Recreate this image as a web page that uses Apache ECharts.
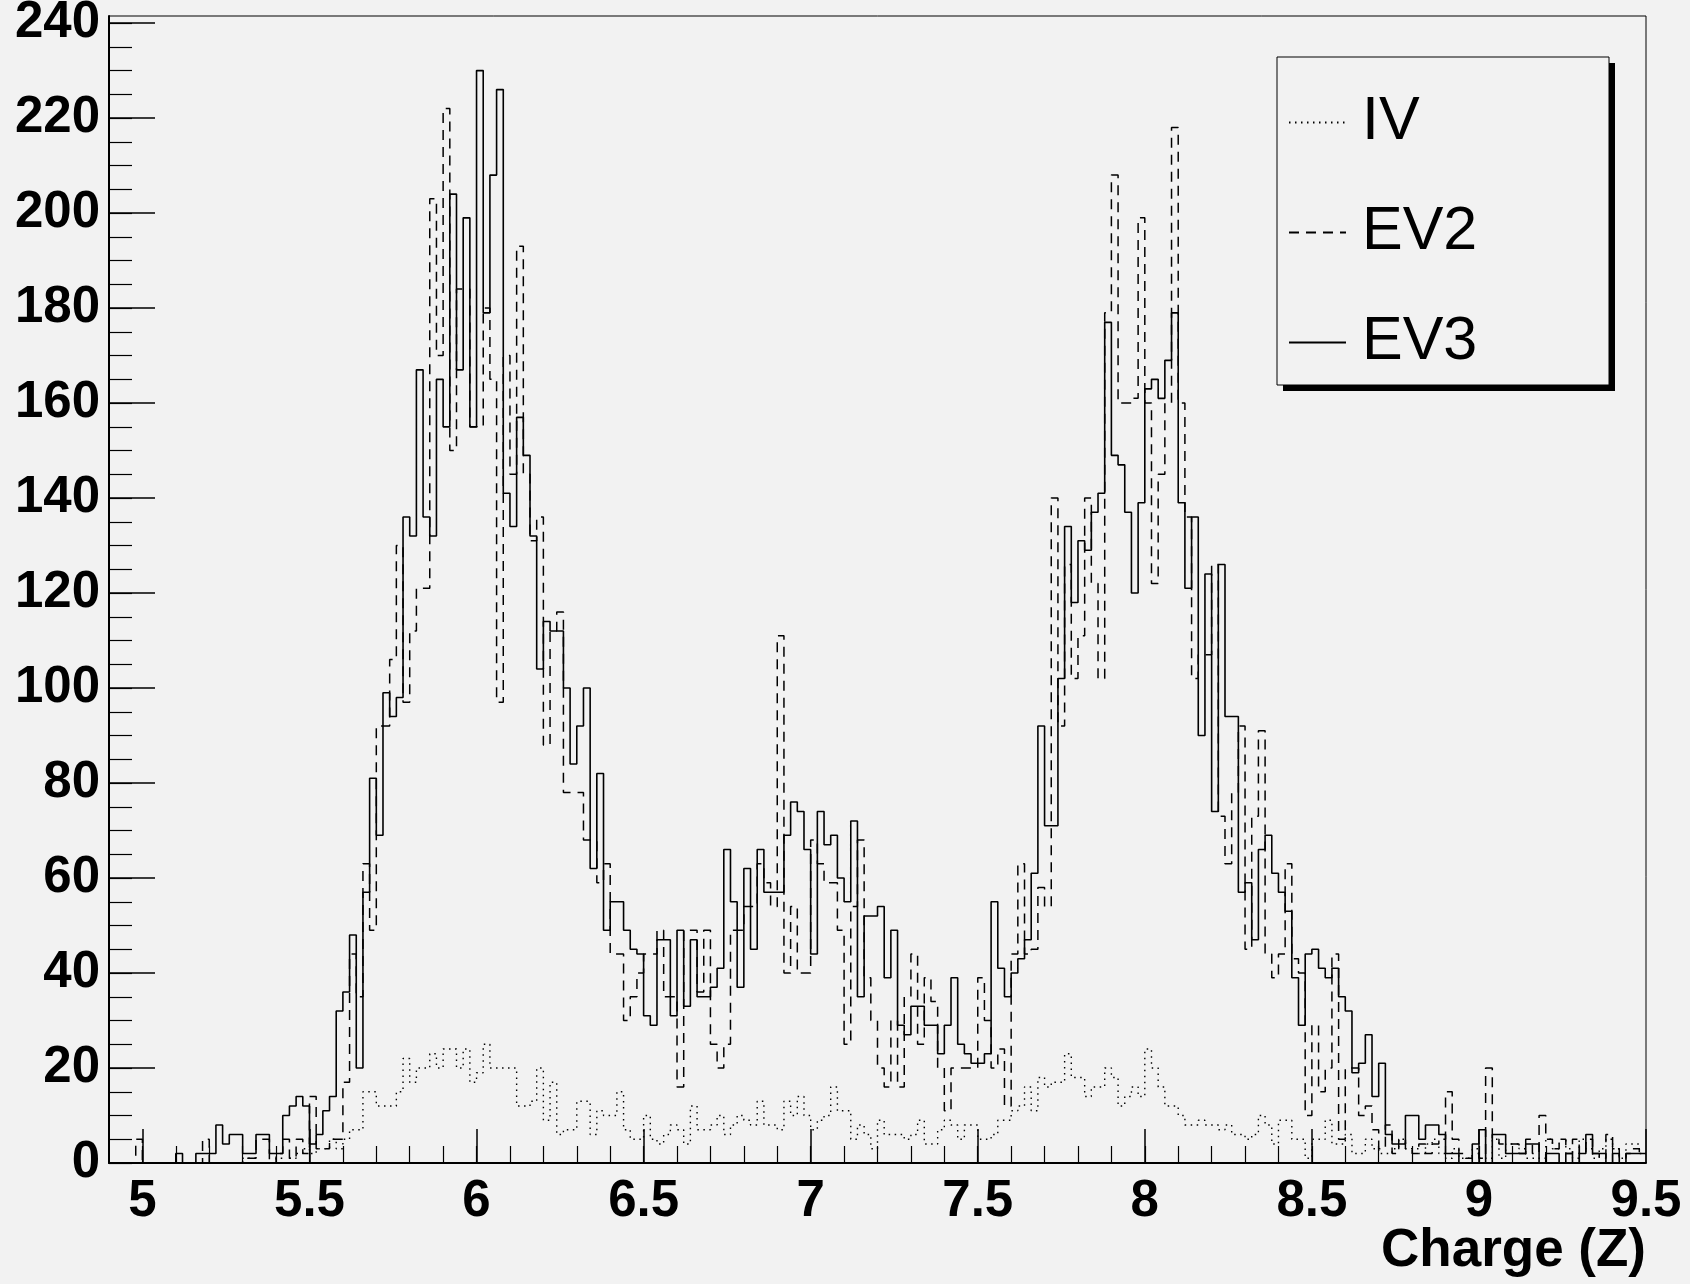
<!DOCTYPE html>
<html>
<head>
<meta charset="utf-8">
<title>Charge (Z)</title>
<script src="https://cdn.jsdelivr.net/npm/echarts@6/dist/echarts.min.js"></script>
<style>
  html, body { margin: 0; padding: 0; background: #f2f2f2; }
  #chart { width: 1690px; height: 1284px; }
</style>
</head>
<body>
<div id="chart"></div>
<script>
  // histogram binning: 230 bins of 0.02 starting at 4.90
  const binStart = 4.9
  const binWidth = 0.02

  const xTickLabels = [5, 5.5, 6, 6.5, 7, 7.5, 8, 8.5, 9, 9.5]
  const yTickLabels = [0, 20, 40, 60, 80, 100, 120, 140, 160, 180, 200, 220, 240]

  const seriesNames = ['IV', 'EV2', 'EV3']

  const iv = [
    0, 0, 0, 0, 0, 0, 0, 0, 0, 0,
    0, 0, 0, 0, 0, 0, 0, 0, 0, 0,
    1, 1, 0, 0, 0, 1, 0, 1, 2, 3,
    2, 3, 3, 5, 3, 5, 7, 7, 15, 15,
    12, 12, 12, 15, 22, 17, 20, 20, 23, 20,
    24, 24, 20, 24, 17, 19, 25, 20, 20, 20,
    20, 12, 12, 13, 20, 9, 17, 6, 7, 7,
    13, 13, 6, 11, 10, 10, 15, 7, 5, 5,
    10, 5, 4, 6, 8, 7, 4, 12, 7, 7,
    8, 10, 6, 8, 10, 9, 8, 13, 8, 8,
    7, 13, 10, 14, 10, 7, 9, 10, 16, 11,
    11, 5, 8, 6, 3, 9, 6, 6, 6, 5,
    6, 9, 4, 4, 7, 9, 8, 5, 8, 8,
    5, 5, 6, 9, 9, 11, 12, 16, 11, 18,
    16, 17, 17, 23, 18, 18, 14, 16, 16, 20,
    18, 12, 14, 16, 14, 24, 20, 16, 12, 12,
    10, 8, 8, 9, 8, 8, 7, 8, 6, 6,
    5, 6, 10, 8, 4, 9, 9, 5, 5, 1,
    5, 5, 9, 4, 4, 6, 2, 2, 5, 3,
    2, 2, 3, 5, 3, 3, 2, 4, 5, 2,
    1, 3, 1, 1, 3, 1, 1, 5, 1, 4,
    4, 3, 1, 1, 1, 5, 3, 5, 3, 1,
    5, 3, 1, 3, 5, 3, 1, 4, 4, 2
  ]

  const ev2 = [
    0, 0, 0, 0, 5, 0, 0, 0, 0, 0,
    0, 0, 0, 0, 5, 0, 0, 0, 0, 0,
    1, 1, 5, 5, 0, 2, 5, 1, 5, 2,
    14, 3, 3, 5, 5, 17, 44, 35, 63, 49,
    92, 92, 106, 130, 97, 112, 121, 121, 203, 170,
    222, 150, 184, 184, 155, 155, 180, 165, 97, 170,
    145, 193, 145, 131, 136, 88, 112, 116, 78, 78,
    78, 68, 68, 59, 63, 44, 44, 30, 35, 40,
    44, 44, 49, 35, 35, 16, 49, 49, 36, 49,
    25, 20, 25, 49, 49, 54, 54, 63, 59, 54,
    111, 40, 54, 40, 40, 68, 63, 59, 59, 49,
    25, 54, 68, 39, 30, 20, 16, 30, 16, 35,
    44, 25, 39, 34, 20, 11, 20, 20, 20, 20,
    39, 30, 20, 24, 12, 44, 63, 44, 45, 58,
    54, 140, 92, 126, 102, 111, 140, 122, 102, 179,
    208, 160, 160, 161, 199, 160, 122, 145, 160, 218,
    160, 136, 102, 107, 107, 126, 73, 63, 78, 92,
    45, 73, 91, 44, 39, 44, 63, 43, 40, 10,
    29, 15, 20, 44, 5, 20, 20, 10, 12, 7,
    3, 8, 2, 5, 3, 2, 4, 2, 4, 5,
    15, 5, 2, 1, 2, 1, 20, 5, 4, 4,
    4, 2, 5, 2, 10, 5, 3, 5, 2, 5,
    2, 5, 2, 1, 6, 3, 1, 2, 3, 2
  ]

  const ev3 = [
    0, 0, 0, 0, 0, 0, 0, 0, 0, 0,
    2, 0, 0, 2, 2, 2, 8, 4, 6, 6,
    2, 2, 6, 6, 2, 2, 10, 12, 14, 12,
    4, 6, 11, 14, 32, 36, 48, 20, 57, 81,
    69, 99, 94, 98, 136, 132, 167, 136, 132, 165,
    155, 204, 167, 199, 155, 230, 179, 208, 226, 141,
    134, 157, 149, 132, 104, 114, 112, 112, 100, 84,
    92, 100, 62, 82, 49, 55, 55, 49, 45, 44,
    31, 29, 47, 47, 31, 49, 33, 47, 35, 35,
    37, 41, 66, 55, 37, 62, 45, 66, 57, 57,
    57, 69, 76, 74, 66, 44, 74, 67, 69, 60,
    55, 72, 35, 52, 52, 54, 39, 49, 29, 27,
    33, 33, 29, 29, 23, 29, 39, 25, 23, 21,
    21, 23, 55, 41, 35, 40, 43, 47, 61, 92,
    71, 71, 102, 134, 118, 131, 129, 137, 141, 177,
    149, 147, 137, 120, 139, 163, 165, 161, 169, 179,
    139, 121, 136, 90, 124, 74, 126, 94, 94, 57,
    59, 47, 66, 69, 61, 57, 53, 39, 29, 44,
    45, 41, 39, 41, 35, 32, 19, 21, 27, 14,
    21, 6, 4, 4, 10, 10, 5, 8, 8, 6,
    2, 2, 0, 0, 4, 7, 0, 6, 6, 2,
    2, 2, 4, 4, 0, 2, 2, 0, 2, 0,
    2, 6, 2, 2, 0, 2, 0, 2, 2, 2
  ]

  const FONT = '"Liberation Sans", Arial, Helvetica, sans-serif'
  const X_MIN = 4.9
  const X_MAX = 9.5
  const Y_MAX = 241.5

  // minor tick positions (every 0.1 on x, every 5 on y)
  const xMinorTicks = []
  for (let i = 1; i < 46; i++) xMinorTicks.push(+(X_MIN + i * 0.1).toFixed(1))
  const yMinorTicks = []
  for (let v = 0; v <= 240; v += 5) yMinorTicks.push(v)

  // bin contents -> step points (left edge of each bin + closing point)
  function toSteps(vals) {
    const pts = vals.map((v, i) => [+(binStart + i * binWidth).toFixed(2), v])
    pts.push([+(binStart + vals.length * binWidth).toFixed(2), vals[vals.length - 1]])
    return pts
  }

  function histSeries(name, vals, lineType, width) {
    return {
      name: name,
      type: 'line',
      step: 'end',
      symbol: 'none',
      showSymbol: false,
      data: toSteps(vals),
      xAxisIndex: 0,
      yAxisIndex: 0,
      lineStyle: { color: '#000', width: width, type: lineType },
      itemStyle: { color: '#000' },
      emphasis: { disabled: true }
    }
  }

  const chart = echarts.init(document.getElementById('chart'))

  chart.setOption({
    animation: false,
    backgroundColor: '#f2f2f2',
    grid: {
      left: 109,
      right: 44,
      top: 16,
      bottom: 121,
      show: true,
      borderColor: '#000',
      borderWidth: 1,
      backgroundColor: 'transparent',
      outerBoundsMode: 'none'
    },
    xAxis: [
      {
        type: 'value',
        min: X_MIN,
        max: X_MAX,
        position: 'bottom',
        axisLine: { show: true, onZero: false, lineStyle: { color: '#000', width: 2 } },
        axisTick: {
          show: true,
          inside: true,
          length: 34,
          customValues: xTickLabels,
          lineStyle: { color: '#000', width: 1.5 }
        },
        axisLabel: {
          customValues: xTickLabels,
          margin: 13,
          color: '#000',
          fontSize: 51,
          fontWeight: 'bold',
          fontFamily: FONT
        },
        splitLine: { show: false }
      },
      {
        type: 'value',
        min: X_MIN,
        max: X_MAX,
        position: 'bottom',
        axisLine: { show: false },
        axisTick: {
          show: true,
          inside: true,
          length: 17,
          customValues: xMinorTicks,
          lineStyle: { color: '#000', width: 1.2 }
        },
        axisLabel: { show: false },
        splitLine: { show: false }
      }
    ],
    yAxis: [
      {
        type: 'value',
        min: 0,
        max: Y_MAX,
        position: 'left',
        axisLine: { show: true, onZero: false, lineStyle: { color: '#000', width: 2 } },
        axisTick: {
          show: true,
          inside: true,
          length: 46,
          customValues: yTickLabels,
          lineStyle: { color: '#000', width: 1.5 }
        },
        axisLabel: {
          customValues: yTickLabels,
          margin: 9,
          color: '#000',
          fontSize: 51,
          fontWeight: 'bold',
          fontFamily: FONT
        },
        splitLine: { show: false }
      },
      {
        type: 'value',
        min: 0,
        max: Y_MAX,
        position: 'left',
        axisLine: { show: false },
        axisTick: {
          show: true,
          inside: true,
          length: 23,
          customValues: yMinorTicks,
          lineStyle: { color: '#000', width: 1.2 }
        },
        axisLabel: { show: false },
        splitLine: { show: false }
      }
    ],
    legend: {
      orient: 'vertical',
      left: 1283,
      top: 87,
      z: 10,
      itemWidth: 57,
      itemHeight: 14,
      itemGap: 49,
      selectedMode: false,
      data: seriesNames,
      itemStyle: { opacity: 0 },
      textStyle: {
        color: '#000',
        fontSize: 61,
        lineHeight: 60,
        fontFamily: FONT,
        padding: [0, 0, 0, 11]
      }
    },
    graphic: [
      {
        type: 'rect',
        z: 5,
        shape: { x: 1283, y: 63, width: 332, height: 328 },
        style: { fill: '#000' }
      },
      {
        type: 'rect',
        z: 6,
        shape: { x: 1277, y: 57, width: 332, height: 328 },
        style: { fill: '#f2f2f2', stroke: '#000', lineWidth: 1 }
      },
      {
        type: 'text',
        z: 6,
        right: 44,
        top: 1225,
        style: {
          text: 'Charge (Z)',
          fill: '#000',
          fontSize: 53,
          fontWeight: 'bold',
          fontFamily: FONT
        }
      }
    ],
    series: [
      histSeries(seriesNames[0], iv, [1.5, 4.5], 1.4),
      histSeries(seriesNames[1], ev2, [10, 7], 1.5),
      histSeries(seriesNames[2], ev3, 'solid', 1.6)
    ]
  })
</script>
</body>
</html>
